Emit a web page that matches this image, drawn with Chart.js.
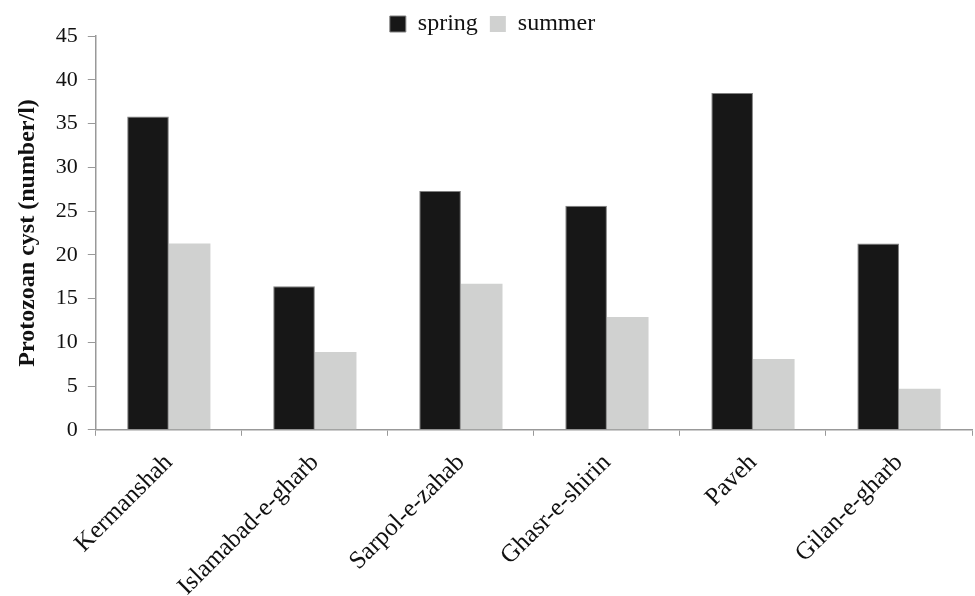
<!DOCTYPE html>
<html>
<head>
<meta charset="utf-8">
<script src="https://cdn.jsdelivr.net/npm/chart.js@4/dist/chart.umd.min.js"></script>
<style>
  body { margin: 0; background: #fff; }
  #wrap { width: 975px; height: 596px; }
</style>
</head>
<body>
<div id="wrap"><canvas id="cystChart"></canvas></div>
<script>
// sites and cyst counts
const sites = ["Kermanshah", "Islamabad-e-gharb", "Sarpol-e-zahab", "Ghasr-e-shirin", "Paveh", "Gilan-e-gharb"];
const spring = [35.8, 16.4, 27.3, 25.6, 38.5, 21.3];
const summer = [21.3, 8.9, 16.7, 12.9, 8.1, 4.7];
const yTicks = [0, 5, 10, 15, 20, 25, 30, 35, 40, 45];

const serif = "'Liberation Serif', 'DejaVu Serif', serif";

// set the legend box height so the plot starts close under it
const legendHeight = {
  id: "legendHeight",
  beforeInit(chart) {
    const fit = chart.legend.fit;
    chart.legend.fit = function () {
      fit.bind(chart.legend)();
      this.height = 36;
    };
  },
};

new Chart(document.getElementById("cystChart"), {
  type: "bar",
  data: {
    labels: sites,
    datasets: [
      {
        label: "spring",
        data: spring,
        backgroundColor: "#171717",
        borderColor: "#808080",
        borderWidth: 1,
        categoryPercentage: 0.57,
        barPercentage: 1.0,
      },
      {
        label: "summer",
        data: summer,
        backgroundColor: "#d0d1d0",
        borderWidth: 0,
        categoryPercentage: 0.57,
        barPercentage: 1.0,
      },
    ],
  },
  plugins: [legendHeight],
  options: {
    responsive: true,
    maintainAspectRatio: false,
    animation: false,
    layout: { padding: { left: 13, right: 3, top: 0, bottom: 0 } },
    plugins: {
      legend: {
        position: "top",
        labels: {
          color: "#111",
          font: { family: serif, size: 24 },
          boxWidth: 16,
          boxHeight: 16,
          padding: 12,
        },
      },
      tooltip: { enabled: false },
    },
    scales: {
      x: {
        afterFit: (axis) => {
          axis.height -= 18; // let the long labels run to the bottom edge
        },
        grid: {
          drawOnChartArea: false,
          drawTicks: true,
          tickLength: 6,
          color: "#999",
          offset: true,
        },
        border: { color: "#999", width: 1.5 },
        ticks: {
          color: "#111",
          font: { family: serif, size: 25, lineHeight: 1.0 },
          minRotation: 45,
          maxRotation: 45,
          padding: 14,
        },
      },
      y: {
        min: 0,
        max: 45,
        afterBuildTicks: (axis) => {
          axis.ticks = yTicks.map((v) => ({ value: v }));
        },
        grid: {
          drawOnChartArea: false,
          drawTicks: true,
          tickLength: 8,
          color: "#999",
        },
        border: { color: "#999", width: 1.5 },
        ticks: {
          color: "#111",
          font: { family: serif, size: 22 },
          padding: 10,
        },
        title: {
          display: true,
          text: "Protozoan cyst (number/l)",
          color: "#111",
          font: { family: serif, size: 24, weight: "bold" },
          padding: { top: 0, bottom: 4 },
        },
      },
    },
  },
});
</script>
</body>
</html>
